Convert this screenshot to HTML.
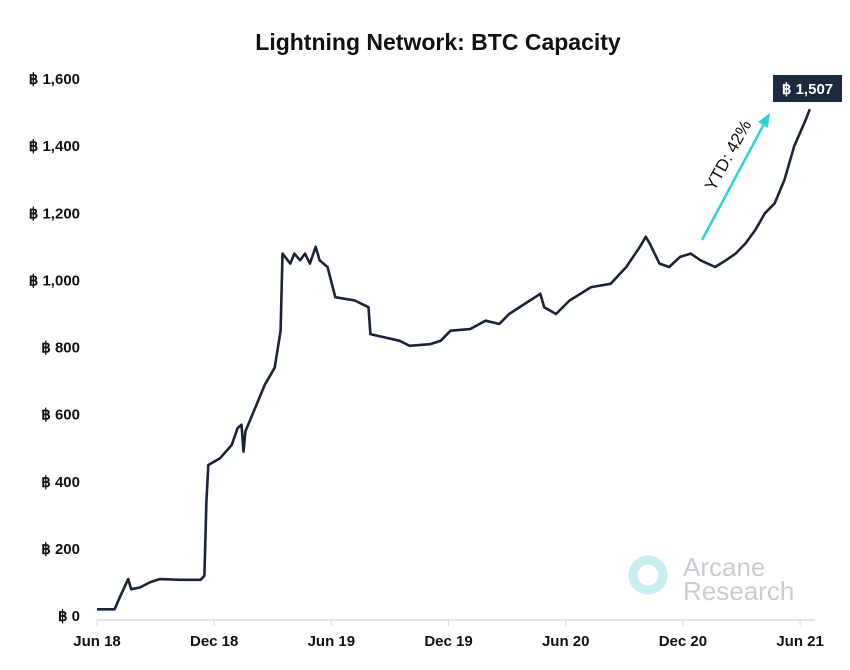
<!DOCTYPE html>
<html><head><meta charset="utf-8"><style>
body{margin:0;background:#fff;font-family:"Liberation Sans",sans-serif;}
svg text{font-family:"Liberation Sans",sans-serif;}
</style></head><body>
<svg width="850" height="665" viewBox="0 0 850 665">
<text x="438" y="50" text-anchor="middle" font-size="23" font-weight="bold" fill="#111">Lightning Network: BTC Capacity</text>
<g id="yaxis"></g>
<g id="xaxis"></g>
<g>
<circle cx="648" cy="575" r="15" fill="none" stroke="#c8eef0" stroke-width="9"/>
<text x="683" y="576" font-size="26" fill="#c9cdd2">Arcane</text>
<text x="683" y="600" font-size="26" fill="#c9cdd2">Research</text>
</g>
<path id="line" fill="none" stroke="#1a2438" stroke-width="2.6" stroke-linejoin="round"/>
<line x1="702" y1="240" x2="764" y2="124" stroke="#2ed3d6" stroke-width="2.5"/>
<polygon points="770,113 758,122 768,128" fill="#2ed3d6"/>
<text x="0" y="0" transform="translate(733,158) rotate(-61)" text-anchor="middle" font-size="17" fill="#111">YTD: 42%</text>
<rect x="773" y="75" width="69" height="27" fill="#1c2a3f"/>
<text x="807.5" y="94" text-anchor="middle" font-size="15" font-weight="bold" fill="#fff">฿ 1,507</text>
</svg>
<script>
const months=[0,0.9,1.2,1.6,1.75,2.2,2.7,3.2,4.25,5.3,5.5,5.6,5.7,6.3,6.9,7.2,7.4,7.5,7.6,8.1,8.6,9.1,9.4,9.5,9.9,10.1,10.4,10.65,10.9,11.2,11.4,11.8,12.2,13.2,13.9,14.0,14.75,15.5,16.0,17.05,17.6,18.1,19.1,19.9,20.6,21.1,21.9,22.7,22.9,23.5,24.2,25.3,26.3,27.1,27.8,28.1,28.3,28.8,29.3,29.85,30.4,30.9,31.65,32.2,32.7,33.2,33.7,34.2,34.7,35.2,35.7,36.3,36.5];
const values=[20,20,60,110,80,85,100,110,108,108,120,340,450,470,510,560,570,490,550,620,690,740,850,1080,1050,1080,1060,1080,1050,1100,1060,1040,950,940,920,840,830,820,805,810,820,850,855,880,870,900,930,960,920,900,940,980,990,1040,1100,1130,1110,1050,1040,1070,1080,1060,1040,1060,1080,1110,1150,1200,1230,1300,1400,1480,1510];
const yTicks=[0,200,400,600,800,1000,1200,1400,1600];
const yTickLabels=["฿ 0","฿ 200","฿ 400","฿ 600","฿ 800","฿ 1,000","฿ 1,200","฿ 1,400","฿ 1,600"];
const xTickMonths=[0,6,12,18,24,30,36];
const xTickLabels=["Jun 18","Dec 18","Jun 19","Dec 19","Jun 20","Dec 20","Jun 21"];
const NS="http://www.w3.org/2000/svg";
const X=m=>97+m*19.53;
const Y=v=>616-v*0.3356;
const ya=document.getElementById('yaxis'),xa=document.getElementById('xaxis');
yTicks.forEach((v,i)=>{const t=document.createElementNS(NS,'text');


t.setAttribute('x',80);t.setAttribute('y',Y(v)+5);t.setAttribute('text-anchor','end');
t.setAttribute('font-size','15');t.setAttribute('font-weight','bold');t.setAttribute('fill','#111');
t.textContent=yTickLabels[i];ya.appendChild(t);});
const base=document.createElementNS(NS,'line');


base.setAttribute('x1',97);base.setAttribute('x2',815);base.setAttribute('y1',Y(0)+4);base.setAttribute('y2',Y(0)+4);
base.setAttribute('stroke','#ddd');base.setAttribute('stroke-width','1.5');xa.appendChild(base);
xTickMonths.forEach((m,i)=>{const l=document.createElementNS(NS,'line');


l.setAttribute('x1',X(m));l.setAttribute('x2',X(m));l.setAttribute('y1',Y(0)+4);l.setAttribute('y2',Y(0)+10);
l.setAttribute('stroke','#ddd');xa.appendChild(l);
const t=document.createElementNS(NS,'text');


t.setAttribute('x',X(m));t.setAttribute('y',646);t.setAttribute('text-anchor','middle');
t.setAttribute('font-size','15');t.setAttribute('font-weight','bold');t.setAttribute('fill','#111');
t.textContent=xTickLabels[i];xa.appendChild(t);});
document.getElementById('line').setAttribute('d',months.map((m,i)=>(i?'L':'M')+X(m).toFixed(1)+','+Y(values[i]).toFixed(1)).join(''));
</script>
</body></html>
